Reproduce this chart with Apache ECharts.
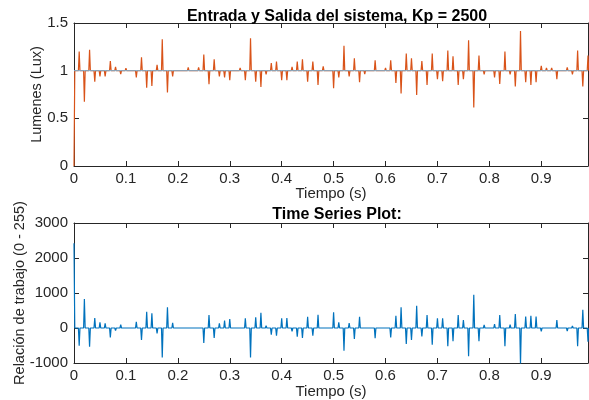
<!DOCTYPE html>
<html>
<head>
<meta charset="utf-8">
<script src="https://cdn.jsdelivr.net/npm/echarts@6/dist/echarts.min.js"></script>
<style>
  html, body { margin: 0; padding: 0; background: #fff; }
  #chart { width: 589px; height: 400px; }
</style>
</head>
<body>
<div id="chart"></div>
<script>
// instantes de muestreo (s)
const tiempo = [
  0.00, 0.01, 0.02, 0.03, 0.04, 0.05, 0.06, 0.07, 0.08, 0.09,
  0.10, 0.11, 0.12, 0.13, 0.14, 0.15, 0.16, 0.17, 0.18, 0.19,
  0.20, 0.21, 0.22, 0.23, 0.24, 0.25, 0.26, 0.27, 0.28, 0.29,
  0.30, 0.31, 0.32, 0.33, 0.34, 0.35, 0.36, 0.37, 0.38, 0.39,
  0.40, 0.41, 0.42, 0.43, 0.44, 0.45, 0.46, 0.47, 0.48, 0.49,
  0.50, 0.51, 0.52, 0.53, 0.54, 0.55, 0.56, 0.57, 0.58, 0.59,
  0.60, 0.61, 0.62, 0.63, 0.64, 0.65, 0.66, 0.67, 0.68, 0.69,
  0.70, 0.71, 0.72, 0.73, 0.74, 0.75, 0.76, 0.77, 0.78, 0.79,
  0.80, 0.81, 0.82, 0.83, 0.84, 0.85, 0.86, 0.87, 0.88, 0.89,
  0.90, 0.91, 0.92, 0.93, 0.94, 0.95, 0.96, 0.97, 0.98, 0.99
]

// salida (lux) en cada muestra
const lumenes = [
  0,     1.20,  0.675, 1.22,  0.885, 0.94,  0.94,  1.10,  1.04,  0.965,
  1.025, 1.00,  0.93,  1.14,  0.82,  0.84,  1.06,  1.33,  0.77,  0.94,
  1.01,  1.01,  1.035, 1.00,  1.035, 1.17,  0.857, 1.12,  0.94,  0.93,
  0.90,  1.02,  1.03,  0.90,  1.34,  0.885, 0.83,  0.96,  1.08,  1.095,
  0.90,  0.90,  1.04,  1.095, 1.12,  0.885, 1.095, 0.85,  1.045, 1.02,
  0.815, 0.93,  1.26,  0.94,  1.13,  0.88,  0.965, 1.01,  1.11,  1.00,
  1.03,  1.11,  0.87,  0.76,  1.18,  1.13,  0.745, 1.10,  0.85,  1.18,
  0.91,  0.89,  1.21,  1.15,  0.85,  0.91,  1.32,  0.615, 1.16,  0.96,
  1.00,  0.93,  0.86,  1.20,  0.96,  0.835, 1.415, 0.88,  0.85,  0.88,
  1.05,  1.03,  1.03,  0.91,  1.00,  1.035, 0.96,  1.21,  0.835, 1.16
]

// entrada (referencia)
const entradaT = [0, 0.99]
const entradaV = [1, 1]

// relacion de trabajo en cada muestra
const relacion = [
  2420, -506,  828, -533,  286,  160,  132, -268,  -77,   95,
   -20,   20,  180, -343,  466,  418, -154, -840,  590,  151,
   -20,  -10,  -30,    0,  -50, -428,  371, -286,  132,  209,
   257,  -20,  -30,  276, -840,  304,  438,   66, -190, -220,
   276,  286,  -95, -248, -286,  323, -220,  381,  -50,  -20,
   447,  160, -648,  143, -314,  323,   30,    0, -295,   10,
   -20, -267,  352,  590, -457, -343,  638, -238,  371, -476,
   276,  276, -524, -381,  371,  229, -810,  952, -381,   86,
     0,  114,  371, -524,   95,  400, -1040, 324,  352,  324,
   -95,  -50,  -50,  229,    0,  -90,   60, -524,  524, -390
]

const xTicks = ['0', '0.1', '0.2', '0.3', '0.4', '0.5', '0.6', '0.7', '0.8', '0.9']

// cada muestra se dibuja como un pico estrecho sobre la linea base
function picos(ts, vs, base) {
  const w = 0.0015
  const out = []
  for (let i = 0; i < ts.length; i++) {
    if (i > 0) out.push([ts[i] - w, base])
    out.push([ts[i], vs[i]])
    out.push([ts[i] + w, base])
  }
  return out
}

const txt = '#262626'
const fam = '"Liberation Sans", Arial, sans-serif'

function ejeX(grid, pos, labels, name, gap) {
  return {
    type: 'value', gridIndex: grid, position: pos,
    min: 0, max: 0.99, interval: 0.1,
    name: name, nameLocation: 'middle', nameGap: gap, nameMoveOverlap: false,
    nameTextStyle: { color: txt, fontSize: 15, fontFamily: fam },
    axisLine: { onZero: false, lineStyle: { color: txt, width: 1 } },
    axisTick: { inside: true, length: 5, lineStyle: { color: txt } },
    axisLabel: {
      show: labels, color: txt, fontSize: 15, fontFamily: fam, margin: 5,
      showMaxLabel: false,
      formatter: v => xTicks[Math.round(v * 10)] || ''
    },
    splitLine: { show: false }
  }
}

function ejeY(grid, pos, labels, min, max, step, name, gap) {
  return {
    type: 'value', gridIndex: grid, position: pos,
    min: min, max: max, interval: step,
    name: name, nameLocation: 'middle', nameGap: gap, nameMoveOverlap: false,
    nameTextStyle: { color: txt, fontSize: 14.5, fontFamily: fam },
    axisLine: { show: true, onZero: false, lineStyle: { color: txt, width: 1 } },
    axisTick: { show: true, inside: true, length: 5, lineStyle: { color: txt } },
    axisLabel: {
      show: labels, color: txt, fontSize: 15, fontFamily: fam, margin: 6,
      formatter: v => String(v)
    },
    splitLine: { show: false }
  }
}

const myChart = echarts.init(document.getElementById('chart'))

myChart.setOption({
  backgroundColor: '#fff',
  animation: false,
  title: [
    {
      text: 'Entrada y Salida del sistema, Kp = 2500',
      left: 332, top: 4, textAlign: 'center',
      textStyle: { fontSize: 16, fontWeight: 'bold', color: '#000', fontFamily: fam }
    },
    {
      text: 'Time Series Plot:',
      left: 332, top: 202, textAlign: 'center',
      textStyle: { fontSize: 16, fontWeight: 'bold', color: '#000', fontFamily: fam }
    }
  ],
  grid: [
    { left: 74, top: 23, width: 514, height: 143, outerBoundsMode: 'none' },
    { left: 74, top: 223, width: 514, height: 140, outerBoundsMode: 'none' }
  ],
  xAxis: [
    ejeX(0, 'bottom', true, 'Tiempo (s)', 20.5),
    ejeX(0, 'top', false, '', 0),
    ejeX(1, 'bottom', true, 'Tiempo (s)', 21.5),
    ejeX(1, 'top', false, '', 0)
  ],
  yAxis: [
    ejeY(0, 'left', true, 0, 1.5, 0.5, 'Lumenes (Lux)', 30),
    ejeY(0, 'right', false, 0, 1.5, 0.5, '', 0),
    ejeY(1, 'left', true, -1000, 3000, 1000, 'Relación de trabajo (0 - 255)', 47),
    ejeY(1, 'right', false, -1000, 3000, 1000, '', 0)
  ],
  series: [
    {
      name: 'Salida', type: 'line', xAxisIndex: 0, yAxisIndex: 0,
      data: picos(tiempo, lumenes, 1),
      showSymbol: false, symbol: 'none',
      lineStyle: { color: '#D95319', width: 1.2 }
    },
    {
      name: 'Entrada', type: 'line', xAxisIndex: 0, yAxisIndex: 0,
      data: entradaT.map((t, i) => [t, entradaV[i]]),
      showSymbol: false, symbol: 'none', z: 3,
      lineStyle: { color: '#7fb0d0', width: 1 }
    },
    {
      name: 'Relación', type: 'line', xAxisIndex: 2, yAxisIndex: 2,
      data: picos(tiempo, relacion, 0),
      showSymbol: false, symbol: 'none',
      lineStyle: { color: '#0072BD', width: 1.2 }
    }
  ]
})
</script>
</body>
</html>
